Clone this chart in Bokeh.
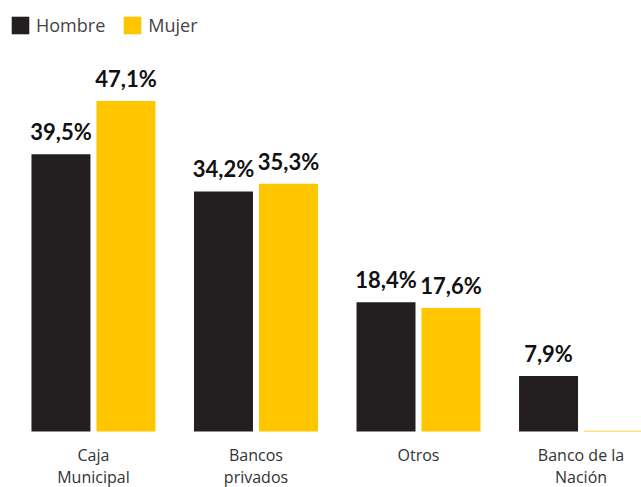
import numpy as np
from bokeh.plotting import figure
from bokeh.models import Range1d, ColumnDataSource, LabelSet, Legend, LegendItem
from bokeh.core.properties import value
from bokeh.embed import file_html
from bokeh.resources import INLINE

categories = ["Caja\nMunicipal", "Bancos\nprivados", "Otros", "Banco de la\nNación"]
hombre = [39.5, 34.2, 18.4, 7.9]
mujer = [47.1, 35.3, 17.6, 0.1]
series_names = ["Hombre", "Mujer"]
colors = ["#231f20", "#ffc600"]

idx = np.arange(len(categories))
off = 0.2
bw = 0.363

p = figure(width=641, height=487, output_backend="svg", toolbar_location=None,
           x_range=Range1d(-0.572, 3.372), y_range=Range1d(-7.98, 61.4),
           x_axis_type=None, y_axis_type=None, min_border=0)
p.outline_line_color = None
p.xgrid.visible = False
p.ygrid.visible = False

src_h = ColumnDataSource(dict(x=idx - off, top=hombre))
src_m = ColumnDataSource(dict(x=idx + off, top=mujer))
r1 = p.vbar(x="x", top="top", width=bw, bottom=0, source=src_h, fill_color=colors[0], line_color=None)
r2 = p.vbar(x="x", top="top", width=bw, bottom=0, source=src_m, fill_color=colors[1], line_color=None)

def fmt(v):
    return f"{v:.1f}".replace(".", ",") + "%"

lx, ly, lt = [], [], []
for xs, vals in ((idx - off, hombre), (idx + off, mujer)):
    for x, v in zip(xs, vals):
        if v >= 1:
            lx.append(x); ly.append(v); lt.append(fmt(v))
lsrc = ColumnDataSource(dict(x=lx, y=ly, t=lt))
p.add_layout(LabelSet(x="x", y="y", text="t", source=lsrc, y_offset=14,
                      text_align="center", text_baseline="alphabetic",
                      text_font=value("Lato"), text_font_style="bold",
                      text_font_size="22px", text_color="#111111"))

csrc = ColumnDataSource(dict(x=idx, y=[0] * len(categories), t=categories))
p.text(x="x", y="y", text="t", source=csrc, y_offset=13,
       text_align="center", text_baseline="top", text_line_height=1.0,
       text_font=value("Open Sans"), text_font_size="16px", text_color="#333333")

legend = Legend(items=[LegendItem(label=series_names[0], renderers=[r1]),
                       LegendItem(label=series_names[1], renderers=[r2])],
                orientation="horizontal", location=(9, 450),
                padding=0, margin=0, spacing=16, label_standoff=5,
                glyph_width=22, glyph_height=22, label_height=22,
                label_text_font="Open Sans", label_text_font_size="18px",
                label_text_color="#444444", label_text_baseline="middle",
                border_line_color=None, background_fill_alpha=0)
p.add_layout(legend)

open("out.html", "w").write(file_html(p, INLINE))
